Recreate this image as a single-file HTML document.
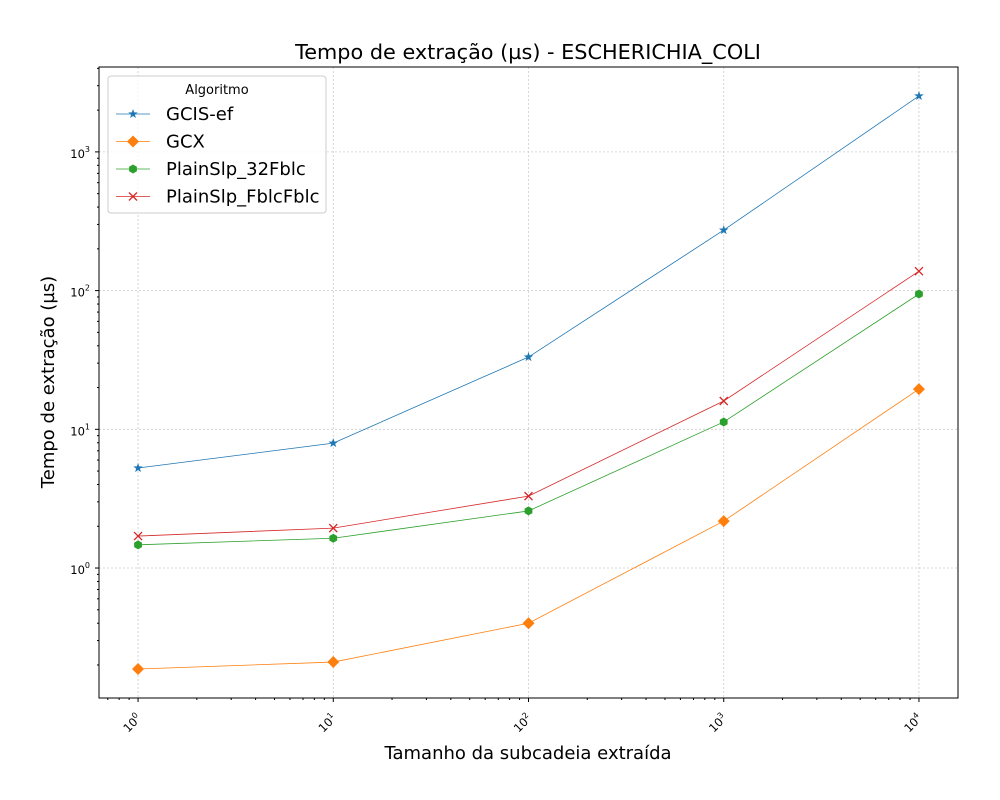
<!DOCTYPE html>
<html><head><meta charset="utf-8"><style>
body{margin:0;background:#fff;}
svg{display:block;font-family:"DejaVu Sans","Liberation Sans",sans-serif;}
</style></head><body>
<svg id="chart" width="1000" height="800" viewBox="0 0 1000 800" xmlns="http://www.w3.org/2000/svg">
<rect width="1000" height="800" fill="#fff"/>
<text x="528" y="59" font-size="20.8" text-anchor="middle">Tempo de extração (µs) - ESCHERICHIA_COLI</text>
<g id="grid"></g>
<g id="axes"></g>
<g id="series"></g>
<rect x="99" y="67" width="859" height="631" fill="none" stroke="#000" stroke-width="1"/>
<text x="528" y="759" font-size="18" text-anchor="middle">Tamanho da subcadeia extraída</text>
<text transform="translate(54,382) rotate(-90)" font-size="18" text-anchor="middle">Tempo de extração (µs)</text>
<g id="legend"></g>
</svg>
<script>
const categories = [1, 10, 100, 1000, 10000];
const seriesNames = ["GCIS-ef", "GCX", "PlainSlp_32Fblc", "PlainSlp_FblcFblc"];
const gcisEf = [5.26, 7.95, 33.2, 273, 2530];
const gcx = [0.187, 0.21, 0.40, 2.18, 19.5];
const plain32 = [1.47, 1.64, 2.58, 11.3, 94.5];
const fblcFblc = [1.70, 1.94, 3.30, 16.0, 138];
const xTickLabels = ["0", "1", "2", "3", "4"];
const yTickExps = [0, 1, 2, 3];

const NS = "http://www.w3.org/2000/svg";
const L = 99, R = 958, T = 67, B = 698;
const xMin = -0.2, xMax = 4.2, yMin = -0.937, yMax = 3.612;
function xs(v){ return L + (Math.log10(v) - xMin) / (xMax - xMin) * (R - L); }
function ys(v){ return B - (Math.log10(v) - yMin) / (yMax - yMin) * (B - T); }
function mk(tag, attrs, parent){ const e = document.createElementNS(NS, tag); for (const k in attrs) e.setAttribute(k, attrs[k]); parent.appendChild(e); return e; }
const grid = document.getElementById("grid"), axes = document.getElementById("axes"), ser = document.getElementById("series"), leg = document.getElementById("legend");

for (let d = -1; d <= 4; d++) {
  for (let m = 1; m <= 9; m++) {
    const v = Math.pow(10, d) * m; const x = xs(v);
    if (x < L || x > R) continue;
    if (m === 1) {
      const gl = mk("line", {x1:x, x2:x, y1:T, y2:B, stroke:"#ccc", "stroke-width":0.8, "stroke-dasharray":"2,2"}, grid);
      
      
      mk("line", {x1:x, x2:x, y1:B, y2:B+4, stroke:"#000"}, axes);
      const t = mk("text", {x:0, y:0, "font-size":11.5, "text-anchor":"middle", transform:`translate(${x-3},${B+28}) rotate(-45)`}, axes);
      
      
      t.textContent = "10";
      const s = mk("tspan", {"font-size":8, dy:-5}, t); s.textContent = xTickLabels[d];
    } else {
      mk("line", {x1:x, x2:x, y1:B, y2:B+2, stroke:"#000"}, axes);
    }
  }
}
for (let d = -1; d <= 3; d++) {
  for (let m = 1; m <= 9; m++) {
    const v = Math.pow(10, d) * m; const y = ys(v);
    if (y < T || y > B) continue;
    if (m === 1) {
      const gl = mk("line", {x1:L, x2:R, y1:y, y2:y, stroke:"#ccc", "stroke-width":0.8, "stroke-dasharray":"2,2"}, grid);
      
      
      mk("line", {x1:L-4, x2:L, y1:y, y2:y, stroke:"#000"}, axes);
      const t = mk("text", {x:L-9, y:y+6, "font-size":11.5, "text-anchor":"end"}, axes);
      
      
      t.textContent = "10";
      const s = mk("tspan", {"font-size":8, dy:-6}, t); s.textContent = String(d);
    } else {
      mk("line", {x1:L-2, x2:L, y1:y, y2:y, stroke:"#000"}, axes);
    }
  }
}
function marker(type, x, y, c, parent){
  if (type === "star") {
    let p = "";
    for (let i = 0; i < 10; i++) { const r = i % 2 ? 2 : 5; const a = -Math.PI/2 + i*Math.PI/5; p += (x + r*Math.cos(a)) + "," + (y + r*Math.sin(a)) + " "; }
    return mk("polygon", {points:p, fill:c}, parent);
  }
  if (type === "diamond") return mk("polygon", {points:`${x},${y-6} ${x+6},${y} ${x},${y+6} ${x-6},${y}`, fill:c}, parent);
  if (type === "hex") {
    let p = "";
    for (let i = 0; i < 6; i++) { const a = Math.PI/6 + i*Math.PI/3; p += (x + 4.5*Math.cos(a)) + "," + (y + 4.5*Math.sin(a)) + " "; }
    return mk("polygon", {points:p, fill:c}, parent);
  }
  return mk("path", {d:`M${x-4},${y-4}L${x+4},${y+4}M${x-4},${y+4}L${x+4},${y-4}`, stroke:c, "stroke-width":1.3}, parent);
}
const all = [gcisEf, gcx, plain32, fblcFblc];
const colors = ["#1f77b4", "#ff7f0e", "#2ca02c", "#d62728"];
const markers = ["star", "diamond", "hex", "x"];
const names = ["series-gcis-ef", "series-gcx", "series-plainslp-32fblc", "series-plainslp-fblcfblc"];
all.forEach((vals, i) => {
  const g = mk("g", {}, ser);
  
  
  const pts = vals.map((v, j) => xs(categories[j]) + "," + ys(v)).join(" ");
  mk("polyline", {points:pts, fill:"none", stroke:colors[i], "stroke-width":0.8}, g);
  vals.forEach((v, j) => {
    const m = marker(markers[i], xs(categories[j]), ys(v), colors[i], g);
    
    
  });
});
const box = mk("rect", {x:108, y:76, width:218, height:137, rx:3, fill:"#fff", "fill-opacity":0.8, stroke:"#ccc"}, leg);


const lt = mk("text", {x:217, y:94, "font-size":13, "text-anchor":"middle"}, leg);


lt.textContent = "Algoritmo";
seriesNames.forEach((n, i) => {
  const y = 114 + i*27.5;
  const g = mk("g", {}, leg);
  
  
  mk("line", {x1:116, x2:150, y1:y, y2:y, stroke:colors[i], "stroke-width":0.8}, g);
  marker(markers[i], 133, y, colors[i], g);
  const t = mk("text", {x:166, y:y+6, "font-size":18}, g);
  t.textContent = n;
});
</script>
</body></html>
